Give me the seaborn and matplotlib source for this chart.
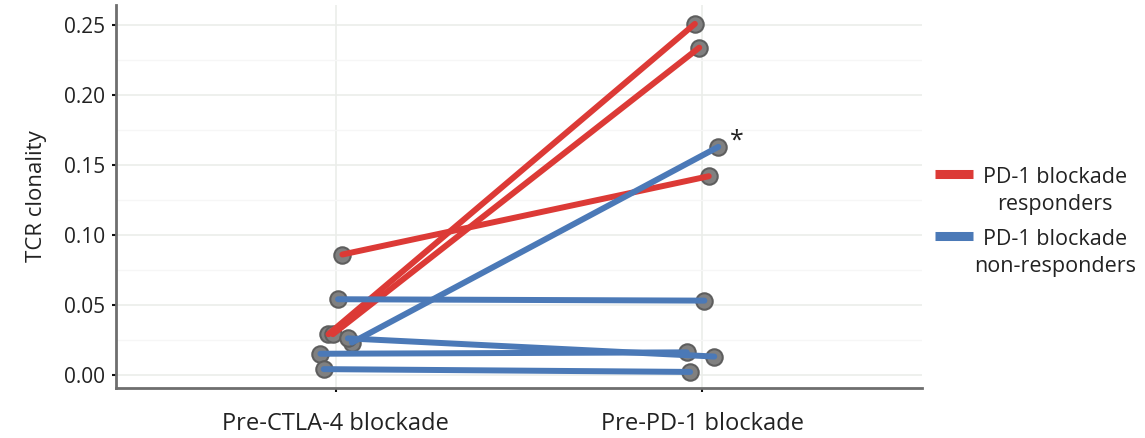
"""Paired TCR clonality before CTLA-4 and PD-1 blockade."""

import matplotlib

matplotlib.use("Agg")

import matplotlib.pyplot as plt
import pandas as pd
import seaborn as sns
from matplotlib.lines import Line2D

TIMEPOINTS = ["Pre-CTLA-4 blockade", "Pre-PD-1 blockade"]
GROUPS = ["PD-1 blockade\nresponders", "PD-1 blockade\nnon-responders"]

patient_group = [0, 0, 0, 1, 1, 1, 1, 1]
pre_ctla4 = [0.086, 0.029, 0.029, 0.054, 0.023, 0.026, 0.015, 0.004]
pre_pd1 = [0.142, 0.251, 0.234, 0.053, 0.163, 0.013, 0.016, 0.002]
# horizontal jitter of each patient's points, in category units
jitter = [0.018, -0.020, -0.008, 0.006, 0.044, 0.033, -0.042, -0.033]

COLORS = {GROUPS[0]: "#DC3A36", GROUPS[1]: "#4B79B7"}

rows = []
for pid, (g, a, b, j) in enumerate(zip(patient_group, pre_ctla4, pre_pd1, jitter)):
    rows.append({"patient": pid, "group": GROUPS[g], "x": 1 + j, "clonality": a})
    rows.append({"patient": pid, "group": GROUPS[g], "x": 2 + j, "clonality": b})
data = pd.DataFrame(rows)

sns.set_theme(style="white")
plt.rcParams["font.family"] = ["Open Sans", "DejaVu Sans"]

fig = plt.figure(figsize=(11.45, 4.38), dpi=100)
ax = fig.add_axes([116 / 1145, 50 / 438, 806 / 1145, 383 / 438])

sns.scatterplot(data=data, x="x", y="clonality", color="#808080", edgecolor="#5E5E5E",
                linewidth=1.5, s=140, ax=ax, zorder=2, legend=False)
sns.lineplot(data=data, x="x", y="clonality", hue="group", units="patient", estimator=None,
             palette=COLORS, linewidth=4.3, ax=ax, zorder=3, legend=False)

ax.set_xlim(0.4, 2.6)
ax.set_ylim(-0.0095, 0.2645)
ax.set_xticks([1, 2], TIMEPOINTS)
ax.set_yticks([0, 0.05, 0.10, 0.15, 0.20, 0.25])
ax.set_yticks([0.025, 0.075, 0.125, 0.175, 0.225], minor=True)
ax.set_yticklabels([f"{v:.2f}" for v in ax.get_yticks()])
ax.set_xlabel("")
ax.set_ylabel("TCR clonality", fontsize=16, color="#222222", labelpad=12)

ax.grid(True, which="major", color="#EBEDEA", linewidth=1.2)
ax.grid(True, which="minor", axis="y", color="#F6F6F6", linewidth=1.0)
ax.set_axisbelow(True)
for side in ["top", "right"]:
    ax.spines[side].set_visible(False)
for side in ["left", "bottom"]:
    ax.spines[side].set_color("#6E6E6E")
    ax.spines[side].set_linewidth(2.0)
ax.tick_params(axis="both", which="major", length=3, width=1.5, color="#111111",
               labelsize=15, labelcolor="#222222", left=True, bottom=True)
ax.tick_params(axis="x", pad=14, labelsize=17)
ax.tick_params(axis="y", pad=5)
ax.tick_params(axis="y", which="minor", length=0)

ax.text(2.094, 0.167, "*", fontsize=18, color="#222222", ha="center", va="center")

# legend, key aligned with the first text line as in the original
for i, g in enumerate(GROUPS):
    y = 0.603 - i * 0.142
    fig.add_artist(Line2D([935 / 1145, 973 / 1145], [y, y], color=COLORS[g],
                          linewidth=6.5, solid_capstyle="butt"))
    fig.text(1055 / 1145, y + 0.016, g, ha="center", va="top", fontsize=15.5,
             color="#222222", multialignment="center", linespacing=1.4)

fig.savefig("out.png", dpi=100)
